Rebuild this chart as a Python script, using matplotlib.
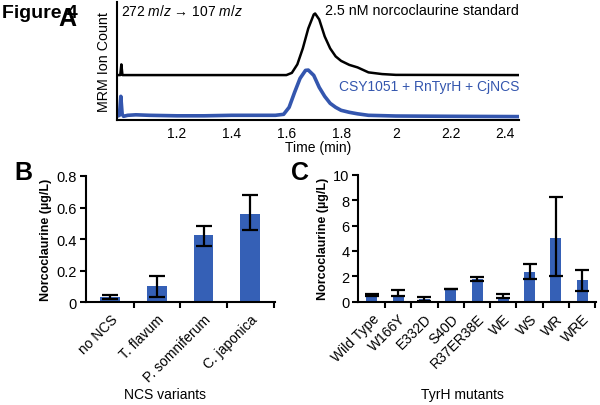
import matplotlib
matplotlib.use("Agg")
import matplotlib.pyplot as plt

plt.rcParams['font.family'] = ['Liberation Sans', 'DejaVu Sans']
plt.rcParams['mathtext.fontset'] = 'custom'
plt.rcParams['mathtext.rm'] = 'Liberation Sans'
plt.rcParams['mathtext.it'] = 'Liberation Sans:italic'

# ---- panel A: MRM traces (ion count, arbitrary units) ----
std_time = [0.98, 0.993, 0.997, 1.001, 1.60, 1.62, 1.64, 1.66, 1.68, 1.70, 1.705,
            1.72, 1.74, 1.76, 1.78, 1.80, 1.83, 1.86, 1.88, 1.90, 1.95, 2.00, 2.45]
std_count = [45.3, 45.3, 56.0, 45.3, 45.3, 47.5, 56.0, 72.0, 92.0, 106.0, 107.0,
             101.0, 84.0, 72.0, 64.0, 59.5, 55.5, 53.0, 50.5, 48.0, 46.3, 45.5, 45.3]

strain_time = [0.98, 0.99, 0.995, 1.00, 1.005, 1.02, 1.05, 1.10, 1.20, 1.30, 1.40, 1.50,
               1.56, 1.59, 1.61, 1.63, 1.65, 1.67, 1.68, 1.70, 1.72, 1.74, 1.76, 1.78,
               1.80, 1.83, 1.86, 1.90, 2.00, 2.20, 2.45]
strain_count = [4.0, 5.0, 24.0, 6.0, 4.0, 5.0, 5.5, 5.0, 4.5, 4.5, 5.0, 5.0,
                5.0, 6.0, 13.0, 28.0, 42.0, 50.0, 50.3, 45.0, 33.0, 24.0, 17.0, 13.0,
                10.0, 8.0, 6.5, 5.0, 4.3, 4.0, 3.7]

time_ticks = [1.2, 1.4, 1.6, 1.8, 2.0, 2.2, 2.4]
time_labels = ['1.2', '1.4', '1.6', '1.8', '2', '2.2', '2.4']

# ---- panel B: NCS variants ----
ncs_names = ['no NCS', 'T. flavum', 'P. somniferum', 'C. japonica']
ncs_vals = [0.032, 0.105, 0.425, 0.558]
ncs_err_lo = [0.011, 0.07, 0.07, 0.10]
ncs_err_hi = [0.015, 0.064, 0.06, 0.124]

# ---- panel C: TyrH mutants ----
tyrh_names = ['Wild Type', 'W166Y', 'E332D', 'S40D', 'R37ER38E', 'WE', 'WS', 'WR', 'WRE']
tyrh_vals = [0.52, 0.55, 0.20, 1.00, 1.78, 0.36, 2.30, 5.05, 1.70]
tyrh_err_lo = [0.10, 0.12, 0.12, 0.03, 0.13, 0.10, 0.55, 3.05, 0.85]
tyrh_err_hi = [0.10, 0.40, 0.14, 0.03, 0.14, 0.22, 0.70, 3.20, 0.80]

BAR_BLUE = '#3560b6'
TRACE_BLUE = '#3456ae'

W, H = 600, 406
fig = plt.figure(figsize=(6, 4.06), dpi=100)


def box(x0, y0, x1, y1):
    # pixel box (top-left origin) -> figure fraction rect
    return [x0 / W, 1 - y1 / H, (x1 - x0) / W, (y1 - y0) / H]


def ftext(x, y, s, **kw):
    fig.text(x / W, 1 - y / H, s, **kw)


# Panel A
axA = fig.add_axes(box(116.7, 3, 519, 121.3))
axA.plot(std_time, std_count, color='black', lw=1.8)
axA.plot(strain_time, strain_count, color=TRACE_BLUE, lw=2.6)
axA.set_xlim(0.98, 2.45)
axA.set_ylim(0, 118.5)
axA.set_xticks(time_ticks)
axA.set_xticklabels(time_labels, fontsize=10)
axA.set_yticks([])
axA.tick_params(axis='x', length=0, pad=4)
for s in ['top', 'right']:
    axA.spines[s].set_visible(False)
for s in ['left', 'bottom']:
    axA.spines[s].set_linewidth(1.5)
axA.set_xlabel('Time (min)', fontsize=10, labelpad=0)
axA.set_ylabel('MRM Ion Count', fontsize=10.3, labelpad=4)
ftext(121, 11, r'272 $m/z$ → 107 $m/z$', fontsize=10, va='center', ha='left')
ftext(519, 11, '2.5 nM norcoclaurine standard', fontsize=10.3, va='center', ha='right')
ftext(519, 87, 'CSY1051 + RnTyrH + CjNCS', fontsize=10, va='center', ha='right',
      color=TRACE_BLUE)
# the "A" sits on top of "Figure 4" in the original
ftext(2, 13, 'Figure 4', fontsize=14, fontweight='bold', va='center', ha='left')
ftext(58, 19, 'A', fontsize=18, fontweight='bold', va='center', ha='left')


def bar_panel(ax, names, vals, lo, hi, ylim, yticks, ylabels, capsize):
    x = list(range(len(names)))
    ax.bar(x, vals, width=0.42, color=BAR_BLUE, zorder=2)
    ax.errorbar(x, vals, yerr=[lo, hi], fmt='none', ecolor='black', elinewidth=1.6,
                capsize=capsize, capthick=1.6, zorder=3)
    ax.set_xlim(-0.52, len(names) - 0.47)
    ax.set_ylim(*ylim)
    ax.set_yticks(yticks)
    ax.set_yticklabels(ylabels, fontsize=10.5)
    ax.set_xticks(x)
    ax.set_xticklabels(names, rotation=45, ha='right', rotation_mode='anchor', fontsize=10)
    ax.set_xticks([i + 0.5 for i in range(len(names))], minor=True)
    ax.tick_params(axis='x', which='major', length=0, pad=7)
    ax.tick_params(axis='x', which='minor', length=4.5, width=1.5, direction='out')
    ax.tick_params(axis='y', length=4.5, width=1.5, direction='out', pad=2)
    for s in ['top', 'right']:
        ax.spines[s].set_visible(False)
    for s in ['left', 'bottom']:
        ax.spines[s].set_linewidth(1.5)
    ax.set_ylabel('Norcoclaurine (µg/L)', fontsize=9, fontweight='bold', labelpad=3)


axB = fig.add_axes(box(86, 177, 275, 303.3))
bar_panel(axB, ncs_names, ncs_vals, ncs_err_lo, ncs_err_hi, (0, 0.8),
          [0, 0.2, 0.4, 0.6, 0.8], ['0', '0.2', '0.4', '0.6', '0.8'], 5.6)
ftext(165, 395, 'NCS variants', fontsize=10, ha='center', va='center')
ftext(14, 173, 'B', fontsize=18, fontweight='bold', va='center', ha='left')

axC = fig.add_axes(box(358.3, 175.7, 596, 302.7))
bar_panel(axC, tyrh_names, tyrh_vals, tyrh_err_lo, tyrh_err_hi, (0, 10),
          [0, 2, 4, 6, 8, 10], ['0', '2', '4', '6', '8', '10'], 4.8)
ftext(462, 395, 'TyrH mutants', fontsize=10, ha='center', va='center')
ftext(291, 173, 'C', fontsize=18, fontweight='bold', va='center', ha='left')

fig.savefig('out.png', dpi=100)
